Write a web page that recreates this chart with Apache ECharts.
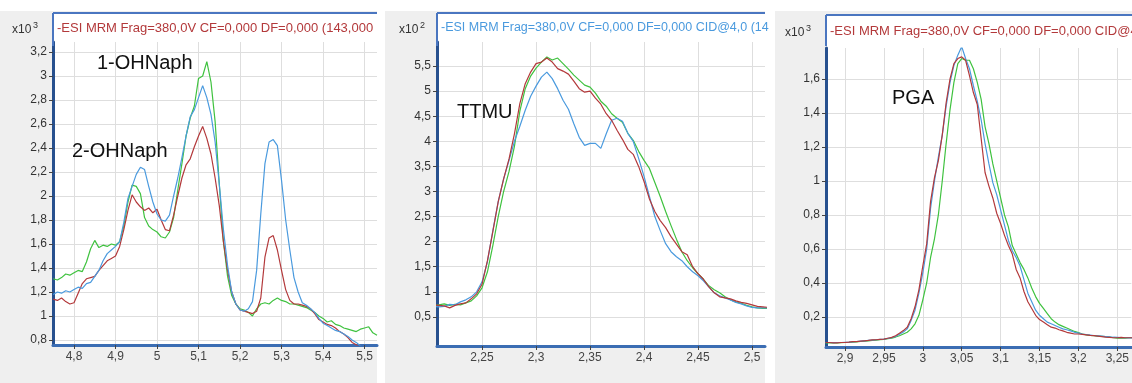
<!DOCTYPE html>
<html>
<head>
<meta charset="utf-8">
<script src="https://cdn.jsdelivr.net/npm/echarts@6/dist/echarts.min.js"></script>
<style>
html, body { margin: 0; padding: 0; background: #fff; }
#chart { width: 1132px; height: 383px; }
</style>
</head>
<body>
<div id="chart"></div>
<script>
// panel 1: 1-OHNaph / 2-OHNaph, x10^3
const naphTime = [4.75, 4.76, 4.77, 4.78, 4.79, 4.80, 4.81, 4.82, 4.83, 4.84, 4.85, 4.86, 4.87, 4.88, 4.89, 4.90, 4.91, 4.92, 4.93, 4.94,
	4.95, 4.96, 4.97, 4.98, 4.99, 5.00, 5.01, 5.02, 5.03, 5.04, 5.05, 5.06, 5.07, 5.08, 5.09, 5.10, 5.11, 5.12, 5.13, 5.14,
	5.15, 5.16, 5.17, 5.18, 5.19, 5.20, 5.21, 5.22, 5.23, 5.24, 5.25, 5.26, 5.27, 5.28, 5.29, 5.30, 5.31, 5.32, 5.33, 5.34,
	5.35, 5.36, 5.37, 5.38, 5.39, 5.40, 5.41, 5.42, 5.43, 5.44, 5.45, 5.46, 5.47, 5.48, 5.49, 5.50, 5.51, 5.52, 5.53]
const naphRed = [1.14, 1.13, 1.15, 1.12, 1.10, 1.11, 1.19, 1.27, 1.31, 1.32, 1.33, 1.38, 1.42, 1.46, 1.48, 1.50, 1.58, 1.72, 1.88, 2.01,
	1.95, 1.91, 1.88, 1.90, 1.86, 1.89, 1.80, 1.72, 1.71, 1.84, 2.00, 2.15, 2.26, 2.31, 2.41, 2.50, 2.58, 2.48, 2.35, 2.15,
	1.92, 1.62, 1.38, 1.20, 1.10, 1.05, 1.04, 1.03, 1.02, 1.04, 1.15, 1.49, 1.65, 1.67, 1.55, 1.38, 1.22, 1.13, 1.10, 1.10,
	1.09, 1.08, 1.06, 1.02, 0.97, 0.95, 0.93, 0.92, 0.90, 0.87, 0.85, 0.82, 0.78, 0.76, 0.74, 0.72, 0.71, 0.70, 0.70]
const naphBlue = [1.18, 1.20, 1.19, 1.21, 1.20, 1.22, 1.24, 1.23, 1.27, 1.28, 1.33, 1.38, 1.46, 1.52, 1.55, 1.58, 1.62, 1.78, 1.98, 2.08,
	2.18, 2.24, 2.22, 2.08, 1.95, 1.85, 1.80, 1.79, 1.84, 2.00, 2.15, 2.32, 2.50, 2.66, 2.72, 2.82, 2.92, 2.82, 2.68, 2.45,
	2.10, 1.72, 1.42, 1.20, 1.10, 1.05, 1.04, 1.06, 1.12, 1.38, 1.85, 2.27, 2.45, 2.47, 2.42, 2.13, 1.80, 1.55, 1.32, 1.20,
	1.11, 1.09, 1.06, 1.03, 0.98, 0.94, 0.92, 0.90, 0.88, 0.87, 0.85, 0.83, 0.80, 0.78, 0.75, 0.73, 0.72, 0.71, 0.70]
const naphGreen = [1.31, 1.30, 1.32, 1.35, 1.34, 1.36, 1.38, 1.37, 1.45, 1.56, 1.63, 1.57, 1.59, 1.58, 1.60, 1.59, 1.62, 1.75, 1.95, 2.09,
	2.08, 2.02, 1.82, 1.75, 1.72, 1.70, 1.66, 1.65, 1.70, 1.82, 2.05, 2.27, 2.50, 2.65, 2.75, 2.98, 3.00, 3.12, 2.95, 2.62,
	2.10, 1.62, 1.33, 1.17, 1.10, 1.06, 1.05, 1.03, 1.00, 1.06, 1.10, 1.11, 1.10, 1.13, 1.15, 1.13, 1.12, 1.10, 1.10, 1.09,
	1.08, 1.07, 1.05, 1.03, 1.00, 0.98, 0.95, 0.96, 0.93, 0.92, 0.90, 0.89, 0.88, 0.87, 0.89, 0.90, 0.91, 0.86, 0.84]
const naphXTicks = [4.8, 4.9, 5.0, 5.1, 5.2, 5.3, 5.4, 5.5]
const naphYTicks = [0.8, 1.0, 1.2, 1.4, 1.6, 1.8, 2.0, 2.2, 2.4, 2.6, 2.8, 3.0, 3.2]

// panel 2: TTMU, x10^2
const ttmuTime = [2.205, 2.210, 2.215, 2.220, 2.225, 2.230, 2.235, 2.240, 2.245, 2.250, 2.255, 2.260, 2.265, 2.270, 2.275, 2.280,
	2.285, 2.290, 2.295, 2.300, 2.305, 2.310, 2.315, 2.320, 2.325, 2.330, 2.335, 2.340, 2.345, 2.350, 2.355, 2.360,
	2.365, 2.370, 2.375, 2.380, 2.385, 2.390, 2.395, 2.400, 2.405, 2.410, 2.415, 2.420, 2.425, 2.430, 2.435, 2.440,
	2.445, 2.450, 2.455, 2.460, 2.465, 2.470, 2.475, 2.480, 2.485, 2.490, 2.495, 2.500, 2.505, 2.510, 2.515]
const ttmuRed = [0.74, 0.73, 0.72, 0.68, 0.73, 0.76, 0.78, 0.86, 0.96, 1.15, 1.62, 2.20, 2.80, 3.25, 3.65, 4.15,
	4.75, 5.15, 5.38, 5.55, 5.58, 5.66, 5.58, 5.45, 5.40, 5.34, 5.20, 5.05, 4.98, 5.00, 4.86, 4.74,
	4.55, 4.42, 4.22, 4.04, 3.84, 3.74, 3.50, 3.20, 2.85, 2.60, 2.42, 2.28, 2.10, 1.95, 1.80, 1.74,
	1.50, 1.36, 1.25, 1.10, 0.98, 0.90, 0.88, 0.86, 0.82, 0.79, 0.77, 0.74, 0.71, 0.70, 0.69]
const ttmuBlue = [0.71, 0.70, 0.71, 0.75, 0.74, 0.80, 0.84, 0.90, 1.00, 1.20, 1.60, 2.22, 2.80, 3.25, 3.62, 4.00,
	4.30, 4.62, 4.90, 5.10, 5.28, 5.38, 5.25, 5.05, 4.82, 4.64, 4.35, 4.08, 3.92, 3.96, 3.96, 3.86,
	4.15, 4.42, 4.46, 4.40, 4.16, 4.00, 3.66, 3.30, 2.90, 2.50, 2.22, 1.96, 1.80, 1.70, 1.62, 1.50,
	1.40, 1.32, 1.22, 1.10, 0.98, 0.92, 0.88, 0.84, 0.79, 0.76, 0.72, 0.69, 0.68, 0.68, 0.68]
const ttmuGreen = [0.72, 0.74, 0.76, 0.73, 0.75, 0.74, 0.78, 0.82, 0.92, 1.08, 1.40, 1.92, 2.50, 3.00, 3.40, 3.90,
	4.60, 5.05, 5.30, 5.46, 5.58, 5.68, 5.62, 5.66, 5.55, 5.44, 5.32, 5.22, 5.12, 5.08, 4.96, 4.80,
	4.70, 4.55, 4.46, 4.38, 4.16, 4.02, 3.80, 3.62, 3.46, 3.18, 2.90, 2.60, 2.32, 2.05, 1.80, 1.62,
	1.48, 1.36, 1.25, 1.12, 1.04, 0.98, 0.90, 0.84, 0.80, 0.77, 0.73, 0.70, 0.68, 0.67, 0.67]
const ttmuXTicks = [2.25, 2.3, 2.35, 2.4, 2.45, 2.5]
const ttmuYTicks = [0.5, 1, 1.5, 2, 2.5, 3, 3.5, 4, 4.5, 5, 5.5]

// panel 3: PGA, x10^3
const pgaTime = [2.875, 2.880, 2.885, 2.890, 2.895, 2.900, 2.905, 2.910, 2.915, 2.920, 2.925, 2.930, 2.935, 2.940, 2.945, 2.950,
	2.955, 2.960, 2.965, 2.970, 2.975, 2.980, 2.985, 2.990, 2.995, 3.000, 3.005, 3.010, 3.015, 3.020, 3.025, 3.030,
	3.035, 3.040, 3.045, 3.050, 3.055, 3.060, 3.065, 3.070, 3.075, 3.080, 3.085, 3.090, 3.095, 3.100, 3.105, 3.110,
	3.115, 3.120, 3.125, 3.130, 3.135, 3.140, 3.145, 3.150, 3.155, 3.160, 3.165, 3.170, 3.175, 3.180, 3.185, 3.190,
	3.195, 3.200, 3.205, 3.210, 3.215, 3.220, 3.225, 3.230, 3.235, 3.240, 3.245, 3.250, 3.255, 3.260, 3.265, 3.270]
const pgaRed = [0.050, 0.050, 0.048, 0.048, 0.050, 0.050, 0.052, 0.055, 0.055, 0.058, 0.060, 0.062, 0.065, 0.066, 0.068, 0.070,
	0.075, 0.080, 0.090, 0.105, 0.120, 0.140, 0.190, 0.260, 0.360, 0.500, 0.630, 0.880, 1.020, 1.120, 1.270, 1.460,
	1.600, 1.690, 1.720, 1.730, 1.710, 1.620, 1.520, 1.450, 1.250, 1.050, 0.970, 0.900, 0.810, 0.750, 0.680, 0.620,
	0.570, 0.480, 0.430, 0.350, 0.290, 0.250, 0.210, 0.185, 0.170, 0.155, 0.140, 0.135, 0.125, 0.118, 0.110, 0.105,
	0.100, 0.100, 0.098, 0.095, 0.092, 0.090, 0.088, 0.085, 0.082, 0.080, 0.078, 0.078, 0.080, 0.078, 0.078, 0.078]
const pgaBlue = [0.050, 0.050, 0.049, 0.050, 0.050, 0.051, 0.052, 0.054, 0.056, 0.058, 0.060, 0.062, 0.064, 0.066, 0.068, 0.070,
	0.074, 0.078, 0.085, 0.098, 0.112, 0.130, 0.180, 0.240, 0.340, 0.460, 0.600, 0.840, 1.000, 1.140, 1.270, 1.440,
	1.580, 1.680, 1.740, 1.790, 1.720, 1.660, 1.560, 1.470, 1.360, 1.220, 1.100, 0.990, 0.920, 0.830, 0.740, 0.650,
	0.590, 0.550, 0.500, 0.420, 0.340, 0.290, 0.240, 0.210, 0.190, 0.170, 0.160, 0.150, 0.140, 0.130, 0.125, 0.118,
	0.110, 0.105, 0.100, 0.097, 0.094, 0.091, 0.089, 0.087, 0.085, 0.083, 0.081, 0.080, 0.079, 0.078, 0.077, 0.077]
const pgaGreen = [0.048, 0.048, 0.047, 0.048, 0.049, 0.050, 0.050, 0.052, 0.054, 0.056, 0.058, 0.060, 0.062, 0.064, 0.066, 0.068,
	0.072, 0.075, 0.082, 0.090, 0.100, 0.110, 0.130, 0.160, 0.210, 0.300, 0.400, 0.550, 0.660, 0.800, 1.000, 1.220,
	1.420, 1.580, 1.690, 1.720, 1.710, 1.710, 1.660, 1.580, 1.480, 1.320, 1.220, 1.100, 1.000, 0.900, 0.800, 0.730,
	0.620, 0.570, 0.520, 0.480, 0.430, 0.370, 0.320, 0.280, 0.250, 0.220, 0.190, 0.170, 0.155, 0.145, 0.135, 0.125,
	0.115, 0.108, 0.100, 0.095, 0.092, 0.090, 0.088, 0.086, 0.084, 0.082, 0.078, 0.076, 0.075, 0.076, 0.078, 0.078]
const pgaXTicks = [2.9, 2.95, 3.0, 3.05, 3.1, 3.15, 3.2, 3.25]
const pgaYTicks = [0.2, 0.4, 0.6, 0.8, 1.0, 1.2, 1.4, 1.6]

const headers = [
	'-ESI MRM Frag=380,0V CF=0,000 DF=0,000 (143,000',
	'-ESI MRM Frag=380,0V CF=0,000 DF=0,000 CID@4,0 (14',
	'-ESI MRM Frag=380,0V CF=0,000 DF=0,000 CID@4'
]
const exponents = ['3', '2', '3']
const compounds = ['1-OHNaph', '2-OHNaph', 'TTMU', 'PGA']

const RED = '#b3393b'
const BLUE = '#4a9ade'
const GREEN = '#3fc23f'
const FONT = 'Liberation Sans'

const chart = echarts.init(document.getElementById('chart'))

const zip = (t, v) => t.map((x, i) => [x, v[i]])
const fmt = v => String(+v.toFixed(3)).replace('.', ',')

const xAxisBase = (gridIndex, min, max, splitNumber, ticks) => ({
	type: 'value',
	gridIndex,
	min,
	max,
	splitNumber,
	axisLine: { show: true, onZero: false, lineStyle: { color: '#3b6db3', width: 3 } },
	axisTick: { show: true, length: 4, customValues: ticks, lineStyle: { color: '#444' } },
	axisLabel: { customValues: ticks, margin: 6, color: '#444', fontSize: 12, fontFamily: FONT, formatter: fmt },
	splitLine: { show: true, lineStyle: { color: '#dedede', width: 1 } }
})

const yAxisBase = (gridIndex, min, max, splitNumber, ticks) => ({
	type: 'value',
	gridIndex,
	min,
	max,
	splitNumber,
	axisLine: { show: true, onZero: false, lineStyle: { color: '#27508e', width: 3 } },
	axisTick: { show: true, length: 4, customValues: ticks, lineStyle: { color: '#444' } },
	axisLabel: { customValues: ticks, margin: 6, color: '#333', fontSize: 12, fontFamily: FONT, formatter: fmt },
	splitLine: { show: true, lineStyle: { color: '#dedede', width: 1 } }
})

const line = (idx, t, v, color) => ({
	type: 'line',
	xAxisIndex: idx,
	yAxisIndex: idx,
	data: zip(t, v),
	showSymbol: false,
	clip: true,
	lineStyle: { color, width: 1.2 },
	itemStyle: { color }
})

const panels = [
	{ gray: [0, 11, 377, 372], white: [53, 13, 324, 332], topY: 13, left: 53, right: 377, headY: 28, headColor: RED, headSize: 13, expX: 12 },
	{ gray: [385, 11, 380, 372], white: [437, 13, 328, 333], topY: 13, left: 437, right: 765, headY: 28, headColor: BLUE, headSize: 12.5, expX: 399 },
	{ gray: [775, 11, 357, 372], white: [826, 15, 306, 332], topY: 15, left: 826, right: 1132, headY: 31, headColor: RED, headSize: 13, expX: 785 }
]

const graphics = []
panels.forEach((p, i) => {
	graphics.push({ type: 'rect', z: -10, shape: { x: p.gray[0], y: p.gray[1], width: p.gray[2], height: p.gray[3] }, style: { fill: '#efefef' } })
	graphics.push({ type: 'rect', z: -9, shape: { x: p.white[0], y: p.white[1], width: p.white[2], height: p.white[3] }, style: { fill: '#fff' } })
	graphics.push({ type: 'line', z: 50, shape: { x1: p.left, y1: p.topY, x2: p.right, y2: p.topY }, style: { stroke: '#4a76c0', lineWidth: 2 } })
	graphics.push({ type: 'line', z: 50, shape: { x1: p.left, y1: p.topY, x2: p.left, y2: 46 }, style: { stroke: '#4a76c0', lineWidth: 2 } })
	graphics.push({ type: 'text', z: 50, x: p.left + 4, y: p.headY, style: { text: headers[i], fill: p.headColor, fontSize: p.headSize, fontFamily: FONT, verticalAlign: 'middle' } })
	graphics.push({ type: 'text', z: 50, x: p.expX, y: p.headY + 2, style: { text: 'x10', fill: '#333', fontSize: 12, fontFamily: FONT, verticalAlign: 'middle' } })
	graphics.push({ type: 'text', z: 50, x: p.expX + 21, y: p.headY - 2, style: { text: exponents[i], fill: '#333', fontSize: 9, fontFamily: FONT, verticalAlign: 'middle' } })
})

const labelPos = [[97, 63], [72, 151], [457, 112], [892, 98]]
compounds.forEach((name, i) => {
	graphics.push({ type: 'text', z: 60, x: labelPos[i][0], y: labelPos[i][1], style: { text: name, fill: '#111', fontSize: 20, fontFamily: FONT, verticalAlign: 'middle' } })
})

const options = {
	animation: false,
	backgroundColor: '#fff',
	grid: [
		{ left: 53, top: 42, width: 324, height: 303 },
		{ left: 437, top: 42, width: 328, height: 304 },
		{ left: 826, top: 48, width: 306, height: 299 }
	],
	xAxis: [
		xAxisBase(0, 4.7494, 5.530, 8, naphXTicks),
		xAxisBase(1, 2.2083, 2.512, 6, ttmuXTicks),
		xAxisBase(2, 2.8756, 3.268, 8, pgaXTicks)
	],
	yAxis: [
		yAxisBase(0, 0.7583, 3.2833, 12, naphYTicks),
		yAxisBase(1, -0.08, 5.98, 12, ttmuYTicks),
		yAxisBase(2, 0.0235, 1.782, 9, pgaYTicks)
	],
	graphic: { elements: graphics },
	series: [
		line(0, naphTime, naphGreen, GREEN),
		line(0, naphTime, naphRed, RED),
		line(0, naphTime, naphBlue, BLUE),
		line(1, ttmuTime, ttmuGreen, GREEN),
		line(1, ttmuTime, ttmuBlue, BLUE),
		line(1, ttmuTime, ttmuRed, RED),
		line(2, pgaTime, pgaGreen, GREEN),
		line(2, pgaTime, pgaBlue, BLUE),
		line(2, pgaTime, pgaRed, RED)
	]
}

chart.setOption(options)
</script>
</body>
</html>
